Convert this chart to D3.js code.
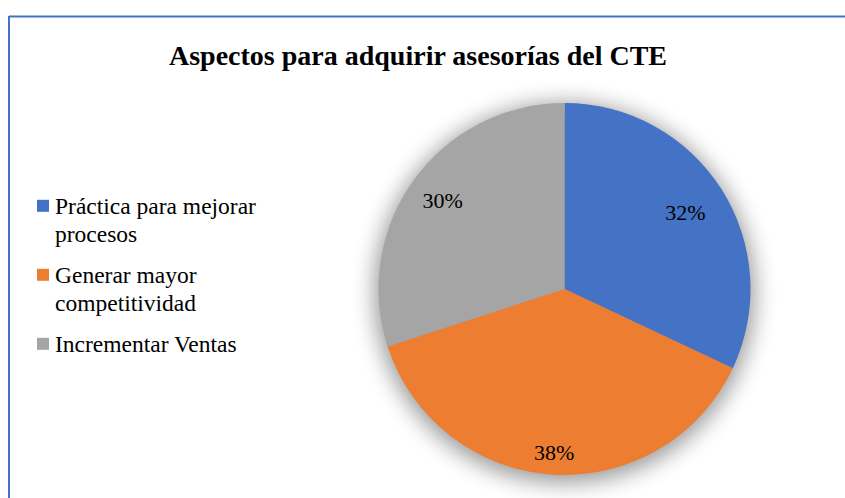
<!DOCTYPE html>
<html>
<head>
<meta charset="utf-8">
<script src="https://cdn.jsdelivr.net/npm/d3@7"></script>
<style>
  html, body { margin: 0; padding: 0; background: #fff; }
  svg { display: block; }
  svg text { font-family: "Liberation Serif", "Times New Roman", serif; }
</style>
</head>
<body>
<svg id="chart" width="845" height="498"></svg>
<script>
const title = "Aspectos para adquirir asesorías del CTE";
const categories = ["Práctica para mejorar procesos", "Generar mayor competitividad", "Incrementar Ventas"];
const legendLines = [["Práctica para mejorar", "procesos"], ["Generar mayor", "competitividad"], ["Incrementar Ventas"]];
const values = [32, 38, 30];
const colors = ["#4472C4", "#ED7D31", "#A5A5A5"];

const svg = d3.select("#chart");
const W = 845, H = 498;

// frame
svg.append("line").attr("x1", 9).attr("y1", 16.5).attr("x2", W).attr("y2", 16.5)
  .attr("stroke", "#4472C4").attr("stroke-width", 2);
svg.append("line").attr("x1", 9).attr("y1", 16).attr("x2", 9).attr("y2", H)
  .attr("stroke", "#4472C4").attr("stroke-width", 2);

// title
svg.append("text").attr("x", 418).attr("y", 64.5).attr("text-anchor", "middle")
  .attr("font-weight", "bold").attr("font-size", 28)
  .attr("fill", "#000").text(title);

// shadow filter
const defs = svg.append("defs");
const f = defs.append("filter").attr("id", "sh").attr("filterUnits", "userSpaceOnUse")
  .attr("x", -260).attr("y", -260).attr("width", 520).attr("height", 520);
f.append("feGaussianBlur").attr("in", "SourceAlpha").attr("stdDeviation", 11).attr("result", "b");
f.append("feOffset").attr("in", "b").attr("dy", 4).attr("result", "o");
f.append("feComponentTransfer").attr("in", "o").attr("result", "t")
  .append("feFuncA").attr("type", "linear").attr("slope", 0.4);

// pie
const cx = 564.5, cy = 289, R = 186;
const pie = d3.pie().sort(null).value(d => d);
const arcs = pie(values);
const arc = d3.arc().innerRadius(0).outerRadius(R);
const g = svg.append("g").attr("transform", `translate(${cx},${cy})`);
g.append("circle").attr("r", R + 4).attr("fill", "#000").attr("filter", "url(#sh)");
g.selectAll("path.slice").data(arcs).enter().append("path")
  .attr("class", "slice").attr("d", arc).attr("fill", (d, i) => colors[i]);

// data labels
const labelRadius = [0.77, 0.88, 0.81];
g.selectAll("text.lbl").data(arcs).enter().append("text")
  .attr("class", "lbl")
  .attr("transform", (d, i) => {
    const a = (d.startAngle + d.endAngle) / 2;
    const r = R * labelRadius[i];
    return `translate(${Math.sin(a) * r},${-Math.cos(a) * r + 7.5})`;
  })
  .attr("text-anchor", "middle")
  .attr("font-size", 22).attr("fill", "#000")
  .text(d => d3.format(".0%")(d.value / d3.sum(values)));

// legend
const legendBaselines = [214.3, 283.3, 352.3];
const lineH = 27.5;
const lg = svg.append("g");
legendLines.forEach((lines, i) => {
  const y0 = legendBaselines[i];
  lg.append("rect").attr("x", 37).attr("y", y0 - 14.5).attr("width", 12).attr("height", 12)
    .attr("fill", colors[i]);
  const t = lg.append("text").attr("font-size", 23.5).attr("fill", "#000");
  lines.forEach((ln, j) => {
    t.append("tspan").attr("x", 55).attr("y", y0 + j * lineH).text(ln);
  });
});
</script>
</body>
</html>
